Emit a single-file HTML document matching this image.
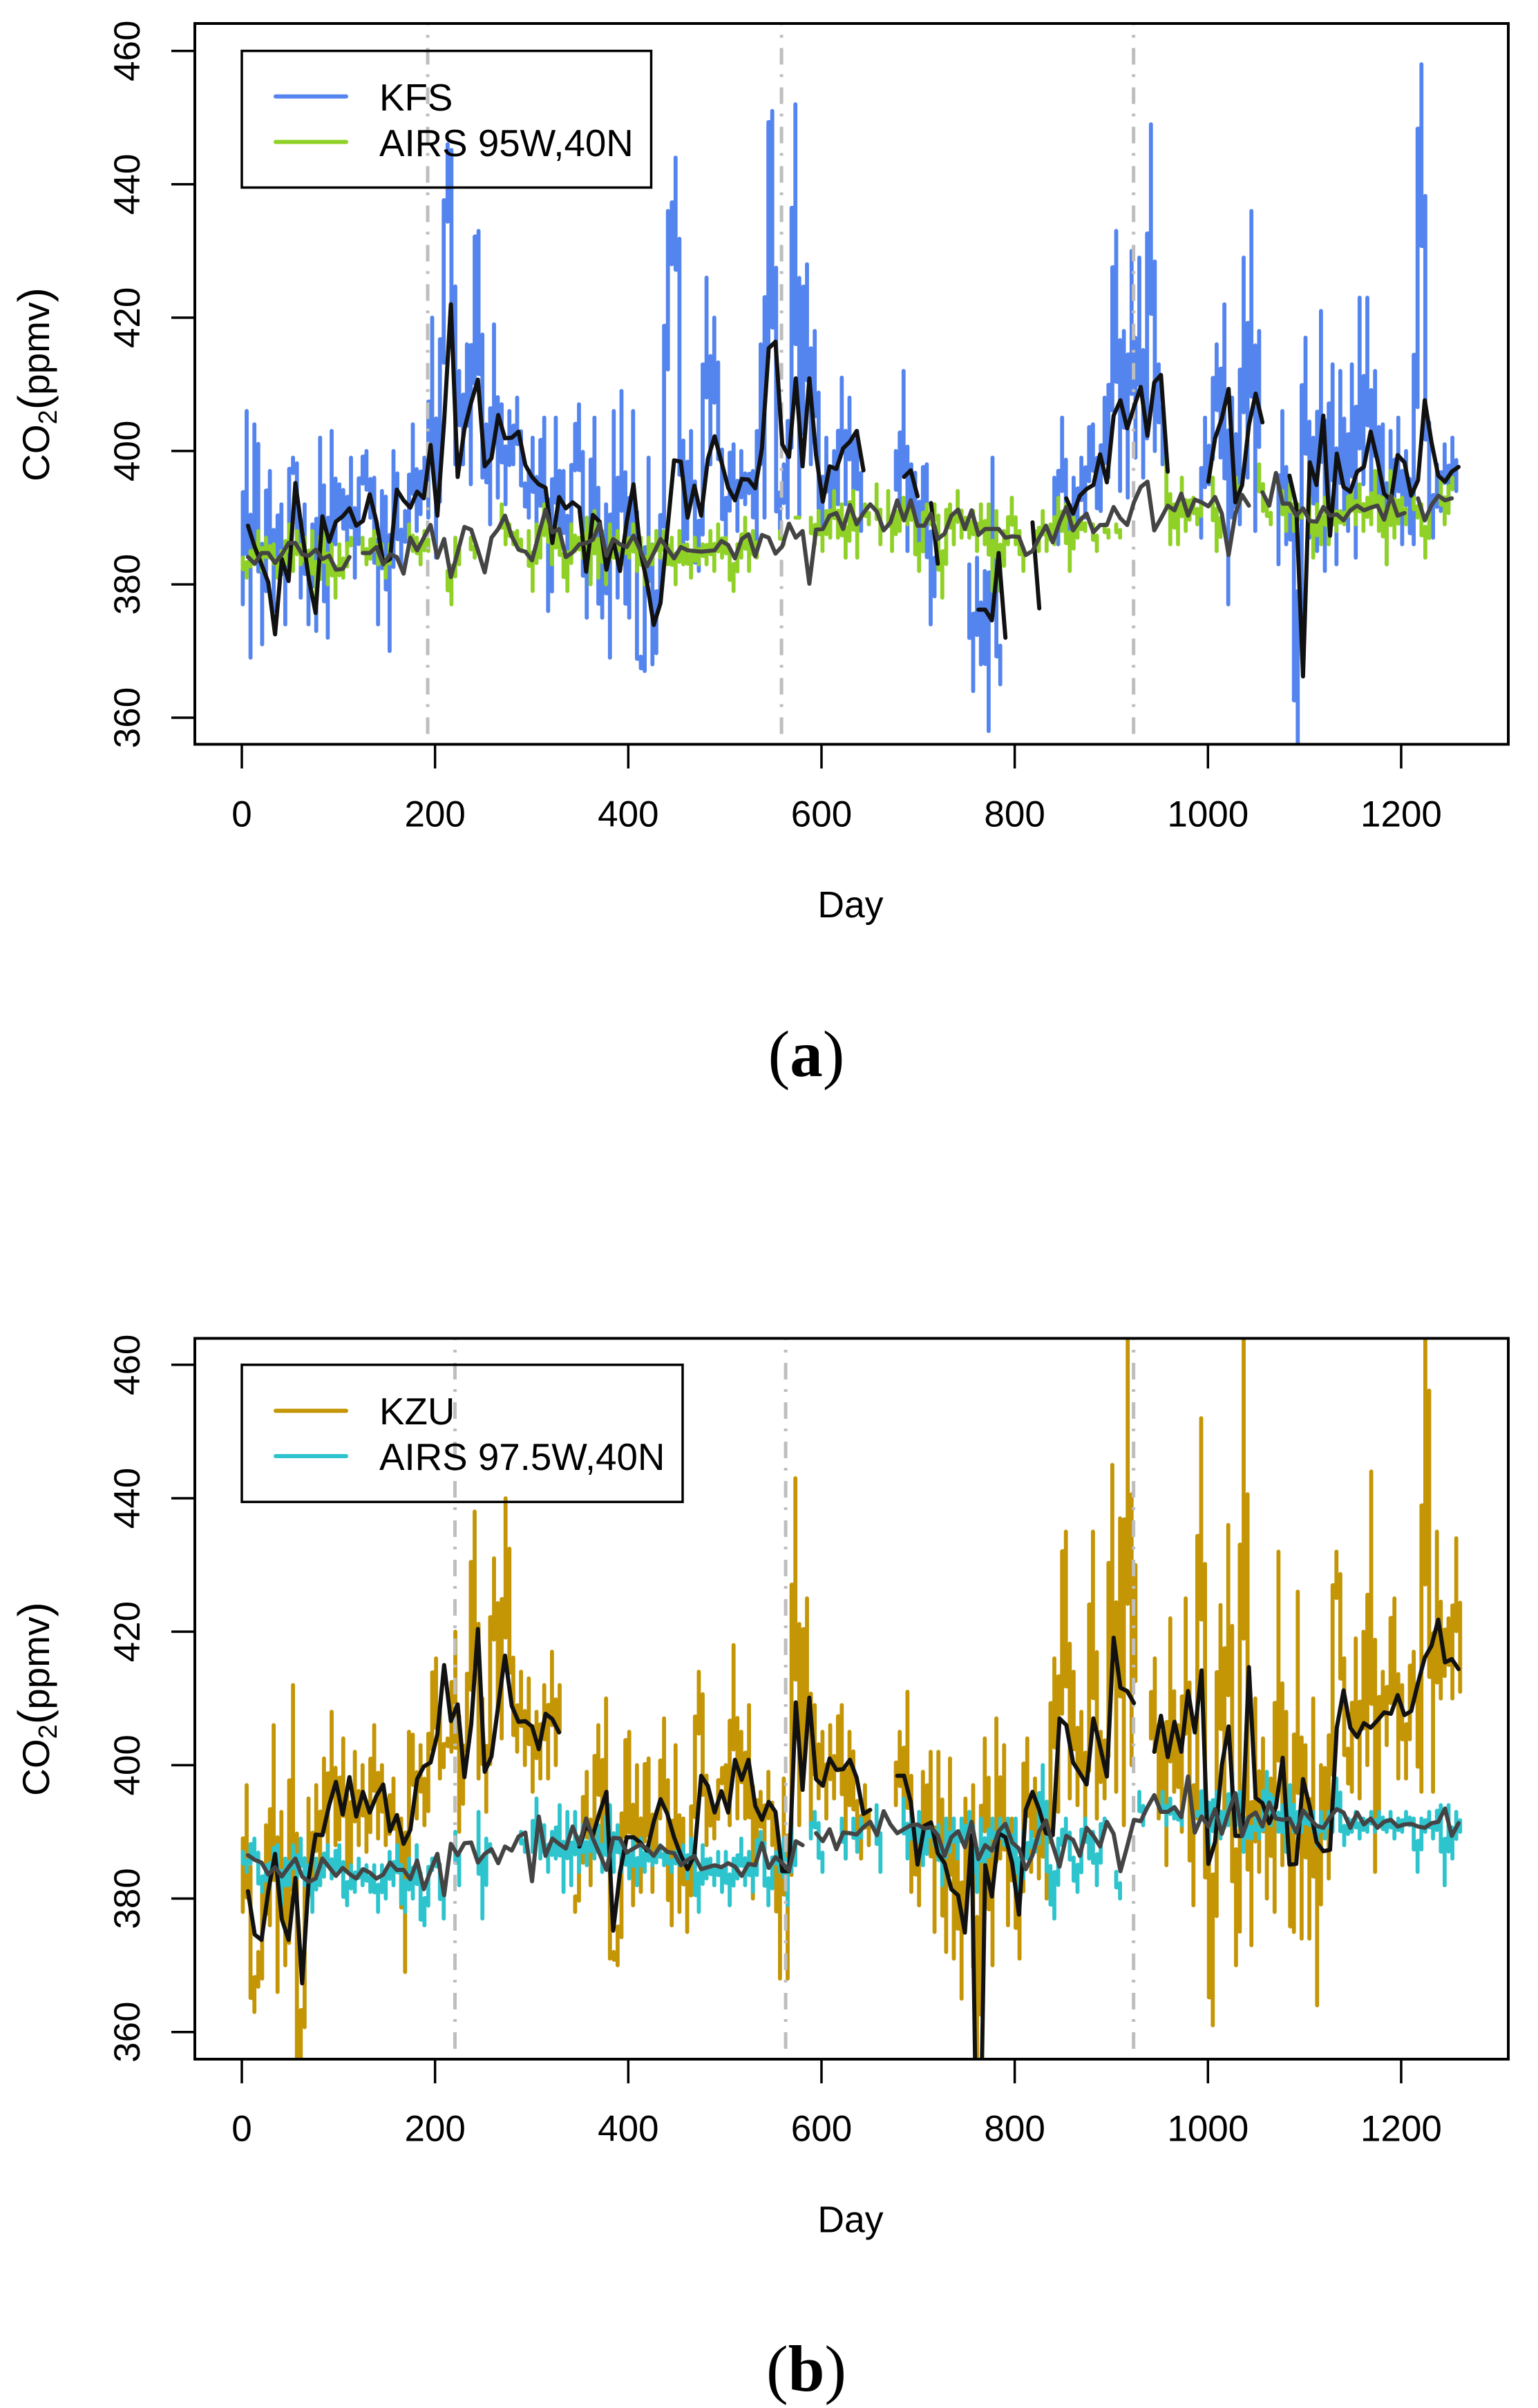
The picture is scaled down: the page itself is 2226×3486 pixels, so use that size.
<!DOCTYPE html>
<html lang="en">
<head>
<meta charset="utf-8">
<title>CO2 time series: KFS and KZU versus AIRS</title>
<style>
html,body{margin:0;padding:0;background:#fff;}
svg{display:block;}
text{font-family:"Liberation Sans",Arial,sans-serif;fill:#000;}
</style>
</head>
<body>
<svg id="figure" xmlns="http://www.w3.org/2000/svg" width="2226" height="3486" viewBox="0 0 2226 3486"></svg>
<script>
const N = null;

/* shared axis data */
const xTickValues = [0, 200, 400, 600, 800, 1000, 1200];
const yTickValues = [360, 380, 400, 420, 440, 460];
const noisyStartDay = 1;
const noisyStepDays = 4;
const weeklyStartDay = 6.4;
const weeklyStepDays = 7;

/* panel (a) vertical reference days */
const panelAMarkerDays = [192.4, 558.6, 923];
/* panel (b) vertical reference days */
const panelBMarkerDays = [220.6, 562.9, 923];

/* panel (a): KFS tower, sampled values */
const kfsValues = [
377,406,369,404,397,371,390,397,376,388,392,374,395,399,397,378,392,374,389,373,402,385,372,403,386,
395,393,385,399,381,393,398,400,390,396,374,394,392,370,400,392,383,391,386,404,388,394,399,390,420,
384,404,426,446,444,398,412,398,416,395,431,433,396,404,389,419,393,407,392,406,398,408,396,394,390,
402,388,397,405,376,383,405,386,397,381,395,400,407,390,375,390,405,380,375,392,369,406,378,409,380,
375,406,370,368,367,399,368,372,384,395,436,428,444,415,383,392,403,385,382,395,426,398,420,404,395,
386,398,401,388,400,392,396,397,385,416,390,447,451,395,388,398,390,415,452,390,420,428,398,418,396,
388,402,390,400,392,411,392,408,393,403,388,N,N,N,N,N,N,N,N,400,390,412,385,398,
395,386,397,398,374,384,N,N,N,N,N,N,N,N,383,364,384,368,382,358,399,375,365,N,N,
N,N,N,N,N,N,N,N,N,N,N,396,386,405,390,386,396,388,399,390,403,404,392,391,408,
396,420,433,394,418,393,430,399,429,396,410,449,400,413,398,N,N,N,N,N,N,N,N,N,387,
405,395,404,416,399,422,377,408,395,389,429,396,436,388,418,N,N,N,N,383,406,386,396,380,350,
400,417,387,402,385,421,382,399,413,383,412,395,388,413,384,423,395,423,390,412,392,404,383,403,390,
405,386,400,390,386,435,458,411,395,387,398,391,401,392,402,394
];

/* panel (a): AIRS 95W,40N, sampled values */
const airs95Values = [
384,381,385,383,388,382,387,384,386,381,385,383,389,382,388,383,387,381,388,377,386,388,380,386,378,
386,381,385,387,N,N,387,383,385,388,383,386,381,386,N,N,N,N,389,385,387,383,388,385,N,
N,N,N,382,377,387,383,N,N,387,384,N,N,N,N,N,N,392,386,389,386,388,385,N,388,
379,389,384,392,391,383,389,385,384,379,389,385,387,384,390,380,391,381,388,380,389,384,388,383,387,
384,389,382,387,380,387,383,388,384,388,383,387,380,388,383,386,381,387,383,386,383,388,382,389,384,
387,383,379,386,384,390,382,388,384,N,N,N,N,N,388,386,N,N,390,390,N,N,390,386,391,
385,391,387,394,387,392,384,390,394,384,N,392,389,N,395,386,N,394,385,391,388,393,389,392,388,
382,389,392,389,392,388,378,390,392,386,394,387,390,387,391,385,392,386,392,379,391,379,388,386,393,
386,388,382,N,N,388,385,391,385,389,386,393,388,392,382,390,387,390,388,N,389,385,N,389,387,
N,389,387,N,N,N,N,N,N,N,N,N,N,N,399,386,392,386,396,388,392,393,389,392,N,
N,396,385,390,N,N,N,396,393,N,N,N,N,398,391,392,389,N,N,394,388,395,388,392,390,
N,393,384,392,386,393,386,393,388,391,389,392,394,389,395,388,393,389,397,388,393,383,397,387,392,
393,389,N,393,390,392,384,391,N,N,396,389,393,396,N,N
];

/* panel (a): KFS weekly mean */
const kfsWeekly = [
388.8,385.6,383,380.3,372.5,383.8,380.5,395.2,387.8,380.8,375.7,390.2,386.4,389.4,390.2,391.4,388.8,389.5,393.5,389.4,
383.2,383.8,394.2,392.6,391.5,393.9,392.9,400.9,390.3,404.4,422,396.1,403.3,407.3,410.7,397.7,398.9,405.4,401.9,402,
402.9,397.9,396.1,395,394.5,386.2,393.1,391.4,392.3,391.5,381.9,390.4,389.4,382.2,386.7,382,389.4,395,385.1,380.3,
373.9,377.2,388,398.6,398.4,390,394.8,390.3,398.8,402.2,398.4,394.5,392.6,395.8,395.7,394.4,400.4,415.4,416.4,401,
399.1,410.9,397.7,410.9,399.4,392.4,397.7,397.3,400.4,401.4,403,397.1,N,N,N,N,N,396.1,397.1,393.2,
N,392.2,383.1,N,N,N,N,N,376.2,376.2,374.6,384.7,372,N,N,N,389.3,376.4,N,N,
N,392.9,390.6,393.3,394.3,394.9,399.5,395.3,405.3,407.6,403.4,406.6,409.6,402.3,410.3,411.4,396.9,N,N,N,
N,N,395.4,401.9,404.9,409.3,392.3,394.9,403.9,408.6,404.3,N,N,N,396.3,391.9,366.2,398.3,394.9,405.3,
387.3,399.6,394.6,393.9,396.9,397.6,402.9,398.6,393.6,392.6,399.4,398.3,393.3,395.6,407.6,401.3,396.3,395.4,396.9,397.6
];

/* panel (a): AIRS 95W,40N weekly mean */
const airs95Weekly = [
384.1,383.1,384.7,384.7,383.2,384.5,386.2,386.2,384.5,384.3,385.2,383.8,384.3,382.2,382.3,384.1,N,384.7,384.7,385.6,
383,384.5,384.1,381.6,387,385.1,387,388.9,384,386.8,381.1,384.8,388.6,388.2,385.1,381.8,387,388.3,390.3,387.2,
385.2,384.9,383.6,387.5,391.2,387.8,388.3,384.1,384.8,386,386.2,386.7,389.1,384.3,386.8,386,385.6,387.3,385.1,382.7,
384.7,386.8,385.4,383.9,385.6,385.1,385,384.9,385,385.1,386.5,385.9,383.9,386.8,387.5,384.2,387.4,387,384.6,385.7,
389.1,387,388,380.1,388.2,388.3,390.3,390.7,388.3,391.9,389,390.7,392,390.9,388.1,389.3,392.6,389.6,392.6,388.8,
388.8,390.6,386.8,387.6,390.3,391.2,388.3,391.1,387.4,388.3,388.3,388.3,387,387.2,387.1,384.4,385,387,388.8,386.3,
389.3,391.6,388.1,389.6,390.6,387.8,388.9,388.9,391.6,389.9,388.9,392.3,394.6,395.4,388.1,389.9,391.8,391.1,393.6,390.3,
392.7,392.3,391.7,393.1,390.6,384.4,390.6,393.4,391.8,N,393.8,391.8,396.7,392.1,392.1,390.3,391.4,389.5,389.4,391.6,
390.3,390.5,389.6,391.1,391.8,391.1,391.5,391.8,389.7,393.3,390.3,390.7,N,392.9,389.6,391.9,393.3,392.6,392.9,N
];

/* panel (b): KZU tower, sampled values */
const kzuValues = [
378,397,368,363,372,368,391,376,406,366,393,370,378,412,359,354,370,395,380,397,382,401,386,408,388,
390,404,384,384,402,388,400,387,394,406,389,400,388,392,398,385,392,369,405,404,392,403,391,396,411,
416,398,402,404,402,420,390,400,405,420,438,398,410,393,410,431,415,404,440,422,408,402,414,400,413,
396,408,398,412,398,417,400,412,N,N,N,378,382,390,399,382,395,406,388,410,371,372,370,380,402,
405,379,400,381,399,401,381,393,392,407,385,376,403,378,392,375,388,398,414,406,388,395,389,396,399,
400,391,418,392,405,392,409,380,393,396,387,399,388,392,368,398,368,405,443,391,414,425,391,409,395,
405,392,406,395,405,409,386,405,398,390,386,397,388,N,N,N,N,N,N,394,405,391,411,381,390,
379,399,390,402,375,402,385,372,401,371,390,365,395,382,397,350,380,404,390,370,407,386,403,376,392,
382,371,395,404,384,398,383,395,380,400,416,393,428,435,395,414,394,408,392,409,435,392,405,395,410,
445,396,437,391,470,400,430,N,N,N,404,416,392,405,385,422,396,406,390,425,395,379,410,452,400,
371,361,400,424,392,436,400,370,382,470,400,373,410,384,404,380,398,378,432,385,408,377,375,426,374,
403,374,410,364,400,399,383,420,432,424,405,399,396,419,395,420,400,444,384,405,414,403,418,425,398,
412,398,412,417,405,396,470,437,396,435,410,418,422,410,434,411
];

/* panel (b): AIRS 97.5W,40N, sampled values */
const airs975Values = [
387,384,387,389,384,381,385,383,387,388,379,386,382,388,383,389,382,385,378,386,382,385,388,383,386,
388,382,379,385,381,386,382,385,381,385,378,385,380,387,382,388,381,378,386,380,388,378,376,383,386,
386,384,377,N,N,390,382,N,N,N,N,393,377,389,387,N,N,N,N,N,N,N,390,387,N,
387,395,386,391,384,390,386,394,381,393,382,393,384,391,385,390,386,391,384,390,394,384,391,384,388,
383,389,382,389,384,388,385,386,388,385,387,384,387,385,388,383,389,384,378,388,383,386,382,387,381,
387,379,386,383,389,382,387,381,387,390,386,379,385,387,384,389,379,391,385,N,N,N,389,393,389,
384,N,N,N,N,392,386,N,392,387,392,N,N,N,394,384,N,N,N,N,N,395,386,393,388,
393,385,389,391,388,391,382,392,387,392,386,392,388,393,388,381,392,385,388,392,387,392,388,392,386,
392,378,390,386,390,387,390,400,387,382,377,389,388,392,387,385,381,388,392,386,390,382,390,392,N,
N,384,380,N,N,N,N,396,391,N,N,N,N,396,391,395,392,393,391,N,N,N,393,392,399,
388,393,396,389,393,391,399,391,396,387,392,389,392,389,392,399,391,395,390,394,387,397,390,393,390,
393,391,393,388,393,389,393,390,398,393,388,392,390,393,389,392,390,393,390,393,391,390,393,389,392,
390,393,391,392,384,392,390,393,389,392,394,382,394,386,393,390
];

/* panel (b): KZU weekly mean */
const kzuWeekly = [
381.1,374.6,373.8,381.1,386.7,376.9,373.8,383.1,367.3,383.1,389.6,389.5,394,397.5,392.6,398.2,392.3,396,392.9,395.4,
397.1,390.1,392.5,388.2,390.3,397.9,399.8,400.4,404.6,415,406.6,409.1,398.2,406.1,420.4,399,401.3,408.9,416.4,408.9,
406.5,406.6,405.8,402.4,407.7,406.9,404.9,N,N,387.8,391,389.5,392.9,396,375.2,383.9,389.2,389.2,388.4,387.2,
391.5,394.9,392.7,389.2,386.5,384.4,386.5,398.4,396.9,392.9,396.1,392.9,400.8,397.8,400.8,393.9,391.8,394.5,393,384.1,
384.1,409.4,396.3,410.1,397.9,396.9,401,399.3,399.4,400.8,398.1,392.7,393.3,N,N,N,398.4,398.4,394.5,385.1,
390.9,391.4,386.8,385.3,381.4,380.5,374.9,389.5,323,385,380.3,389.8,389.2,385.3,377.6,393.3,396,393.3,389.8,389.5,
407,406,400.4,398.8,397.1,407,402.8,398.3,419.1,411.6,411.1,409.3,N,N,402,407.4,401.2,406.5,402,411.1,
404.9,414.2,385.2,388.5,400,405.8,389.4,389.4,414.7,395.1,394.3,391.3,393.7,401.1,385.1,385.2,397.9,393.7,388.5,387.1,
387.3,405.6,411.2,405.6,404.2,406.3,405.6,406.7,407.9,407.7,410.5,407.5,408.1,412.3,416.1,417.9,421.8,415.4,415.9,414.4
];

/* panel (b): AIRS 97.5W,40N weekly mean */
const airs975Weekly = [
386.5,385.8,385.4,383.6,384.7,383.3,384.7,386,383.3,382.5,383,386,384.7,383.4,384.6,383.7,383,384.4,383.9,383,
383.6,385.4,384.3,384.3,382.9,385.7,381.4,384.2,386.7,380.5,388.2,386.5,388.3,388.4,385.4,386.7,387.4,385.3,387.8,387.2,
389.3,389.9,382.6,392.3,386.4,389,388.2,387.5,390.8,388.1,392,389,386.7,384.3,389.1,389,386.9,387.5,388.1,387.5,
386.4,387.9,387,386.8,385,385.8,386.4,384.4,384.7,385,384.7,385.3,384.8,383.4,385.2,385,388.3,384.6,386.2,385.3,
384.2,388.6,388,N,389.8,388.6,390.4,387.4,389.9,389.8,389.6,390.7,391.5,389.5,393.1,391.1,389.8,390.4,391,391.1,
390.5,390.7,389.5,386.4,389.2,390.1,387.7,391.5,385.9,388,387.2,390.1,391.2,388.4,387.5,384.4,386.5,390.1,391.7,388,
384.8,389.4,388.8,386.4,390.6,389.4,387.8,391.5,389.7,384.1,387.8,391.8,391.6,393.7,395.5,393,393,393.7,392.2,398.3,
389.9,392.3,390.8,393.4,389.7,393,395.8,389.4,392.2,392.9,390.8,394.4,392,391.8,392,389.9,393.2,392,390.9,390.6,
392.2,393.4,392.9,390.6,392.9,391.1,392,390.6,391.5,391.8,390.8,391.1,391.2,390.8,390.6,391.3,391.5,393.5,389.4,391.3
];

const SVG_NS = 'http://www.w3.org/2000/svg';
const svg = document.getElementById('figure');

/* axis functions */
const xScale = function (day) { return 350 + day * 1.3983; };
const yScaleA = function (v) { return 1039 - (v - 360) * 9.653; };
const yScaleB = function (v) { return 2941.7 - (v - 360) * 9.659; };

function make(tag, parent) {
  const el = document.createElementNS(SVG_NS, tag);
  parent.appendChild(el);
  return el;
}

function styleLine(el, color, width) {
  el.setAttribute('fill', 'none');
  el.setAttribute('stroke', color);
  el.setAttribute('stroke-width', width);
  el.setAttribute('stroke-linejoin', 'round');
  el.setAttribute('stroke-linecap', 'round');
}

/* weekly series: plain polyline */
function drawWeekly(parent, values, yScale, color, seriesName) {
  let d = '';
  let pen = false;
  for (let i = 0; i < values.length; i++) {
    const v = values[i];
    if (v === null) { pen = false; continue; }
    const px = xScale(weeklyStartDay + i * weeklyStepDays).toFixed(1);
    const py = yScale(v).toFixed(1);
    d += (pen ? 'L' : 'M') + px + ' ' + py;
    pen = true;
  }
  const el = make('path', parent);
  
  
  el.setAttribute('d', d);
  styleLine(el, color, 6);
}

/* noisy series: adjacent columns so that fast oscillation reads as a band with single-column peaks */
function drawNoisy(parent, values, yScale, color, seriesName) {
  let d = '';
  for (let i = 0; i < values.length; i++) {
    const v = values[i];
    if (v === null) continue;
    const px = xScale(noisyStartDay + i * noisyStepDays);
    const py = yScale(v);
    const prev = i > 0 ? values[i - 1] : null;
    if (prev === null) d += 'M' + px.toFixed(1) + ' ' + py.toFixed(1);
    const next = i + 1 < values.length ? values[i + 1] : null;
    if (next === null) {
      if (prev === null) d += 'V' + py.toFixed(1);
      continue;
    }
    const py2 = yScale(next);
    const px2 = xScale(noisyStartDay + (i + 1) * noisyStepDays);
    const far = py + 0.58 * (py2 - py);
    const near = py + 0.42 * (py2 - py);
    d += 'V' + far.toFixed(1) + 'H' + px2.toFixed(1) + 'V' + near.toFixed(1) + 'V' + py2.toFixed(1);
  }
  const el = make('path', parent);
  
  
  el.setAttribute('d', d);
  styleLine(el, color, 5.8);
}

function drawPanel(cfg) {
  const g = make('g', svg);
  
  

  const clip = make('clipPath', g);
  clip.setAttribute('id', cfg.clipId);
  const clipRect = make('rect', clip);
  clipRect.setAttribute('x', cfg.left);
  clipRect.setAttribute('y', cfg.top);
  clipRect.setAttribute('width', cfg.right - cfg.left);
  clipRect.setAttribute('height', cfg.bottom - cfg.top);

  const plot = make('g', g);
  
  
  plot.setAttribute('clip-path', 'url(#' + cfg.clipId + ')');

  drawNoisy(plot, cfg.towerValues, cfg.yScale, cfg.towerColor, cfg.towerName);
  drawNoisy(plot, cfg.airsValues, cfg.yScale, cfg.airsColor, cfg.airsName);

  cfg.markers.forEach(function (day) {
    const line = make('line', plot);
    
    
    line.setAttribute('x1', xScale(day));
    line.setAttribute('x2', xScale(day));
    line.setAttribute('y1', cfg.bottom + 3);
    line.setAttribute('y2', cfg.top);
    line.setAttribute('stroke', '#bebebe');
    line.setAttribute('stroke-width', 5);
    line.setAttribute('stroke-dasharray', '4 14 24 15');
  });

  drawWeekly(plot, cfg.towerWeekly, cfg.yScale, '#111111', cfg.towerName + '-weekly');
  drawWeekly(plot, cfg.airsWeekly, cfg.yScale, '#444444', cfg.airsName + '-weekly');

  const box = make('rect', g);
  
  
  box.setAttribute('x', cfg.left);
  box.setAttribute('y', cfg.top);
  box.setAttribute('width', cfg.right - cfg.left);
  box.setAttribute('height', cfg.bottom - cfg.top);
  box.setAttribute('fill', 'none');
  box.setAttribute('stroke', '#000');
  box.setAttribute('stroke-width', 4);

  xTickValues.forEach(function (t) {
    const tick = make('line', g);
    
    
    tick.setAttribute('x1', xScale(t));
    tick.setAttribute('x2', xScale(t));
    tick.setAttribute('y1', cfg.bottom);
    tick.setAttribute('y2', cfg.bottom + 35);
    tick.setAttribute('stroke', '#000');
    tick.setAttribute('stroke-width', 3.5);
    const label = make('text', g);
    
    
    label.setAttribute('x', xScale(t));
    label.setAttribute('y', cfg.xLabelBase);
    label.setAttribute('font-size', 53);
    label.setAttribute('text-anchor', 'middle');
    label.textContent = t;
  });

  yTickValues.forEach(function (t) {
    const tick = make('line', g);
    
    
    tick.setAttribute('x1', 248);
    tick.setAttribute('x2', cfg.left);
    tick.setAttribute('y1', cfg.yScale(t));
    tick.setAttribute('y2', cfg.yScale(t));
    tick.setAttribute('stroke', '#000');
    tick.setAttribute('stroke-width', 3.5);
    const label = make('text', g);
    
    
    label.setAttribute('transform', 'translate(202 ' + cfg.yScale(t) + ') rotate(-90)');
    label.setAttribute('font-size', 53);
    label.setAttribute('text-anchor', 'middle');
    label.textContent = t;
  });
}

drawPanel({
  panelName: 'panel-a', clipId: 'clip-a',
  left: 282, right: 2183, top: 34, bottom: 1077.5,
  xLabelBase: 1196.5, yScale: yScaleA, markers: panelAMarkerDays,
  towerValues: kfsValues, airsValues: airs95Values,
  towerWeekly: kfsWeekly, airsWeekly: airs95Weekly,
  towerColor: '#5484ee', airsColor: '#8fd126',
  towerName: 'kfs-line', airsName: 'airs-95w-line'
});

drawPanel({
  panelName: 'panel-b', clipId: 'clip-b',
  left: 282, right: 2183, top: 1937.5, bottom: 2981,
  xLabelBase: 3099.5, yScale: yScaleB, markers: panelBMarkerDays,
  towerValues: kzuValues, airsValues: airs975Values,
  towerWeekly: kzuWeekly, airsWeekly: airs975Weekly,
  towerColor: '#c49505', airsColor: '#2ec4ce',
  towerName: 'kzu-line', airsName: 'airs-97-5w-line'
});
</script>
<script>
/* static labels and legends are appended after the drawn panels so they sit on top */
(function () {
  const overlay = document.createElementNS('http://www.w3.org/2000/svg', 'g');
  overlay.innerHTML = `
  <g>
    <rect x="350" y="73.7" width="592.5" height="197.8" fill="none" stroke="#000" stroke-width="3.5"/>
    <line x1="399" x2="501" y1="139.6" y2="139.6" stroke="#5484ee" stroke-width="6" stroke-linecap="round"/>
    <line x1="399" x2="501" y1="205.5" y2="205.5" stroke="#8fd126" stroke-width="6" stroke-linecap="round"/>
    <text x="549" y="160" font-size="54.7">KFS</text>
    <text x="549" y="226" font-size="54.7">AIRS 95W,40N</text>
  </g>
  <g>
    <rect x="350" y="1975.8" width="638" height="198.5" fill="none" stroke="#000" stroke-width="3.5"/>
    <line x1="399" x2="501" y1="2042.4" y2="2042.4" stroke="#c49505" stroke-width="6" stroke-linecap="round"/>
    <line x1="399" x2="501" y1="2108" y2="2108" stroke="#2ec4ce" stroke-width="6" stroke-linecap="round"/>
    <text x="549" y="2062" font-size="54.7">KZU</text>
    <text x="549" y="2128" font-size="54.7">AIRS 97.5W,40N</text>
  </g>
  <text transform="translate(71 556.5) rotate(-90)" font-size="55" text-anchor="middle">CO<tspan font-size="38" dy="11">2</tspan><tspan font-size="64" dy="-11">(</tspan>ppmv<tspan font-size="64">)</tspan></text>
  <text transform="translate(71 2459.5) rotate(-90)" font-size="55" text-anchor="middle">CO<tspan font-size="38" dy="11">2</tspan><tspan font-size="64" dy="-11">(</tspan>ppmv<tspan font-size="64">)</tspan></text>
  <text x="1231" y="1328" font-size="53.5" text-anchor="middle">Day</text>
  <text x="1231" y="3231.5" font-size="53.5" text-anchor="middle">Day</text>
  <text x="1167" y="1558" font-size="95" text-anchor="middle" style="font-family:'Liberation Serif',serif">(<tspan font-weight="bold">a</tspan>)</text>
  <text x="1167" y="3461.5" font-size="95" text-anchor="middle" style="font-family:'Liberation Serif',serif">(<tspan font-weight="bold">b</tspan>)</text>`;
  
  
  document.getElementById('figure').appendChild(overlay);
})();
</script>
</body>
</html>
